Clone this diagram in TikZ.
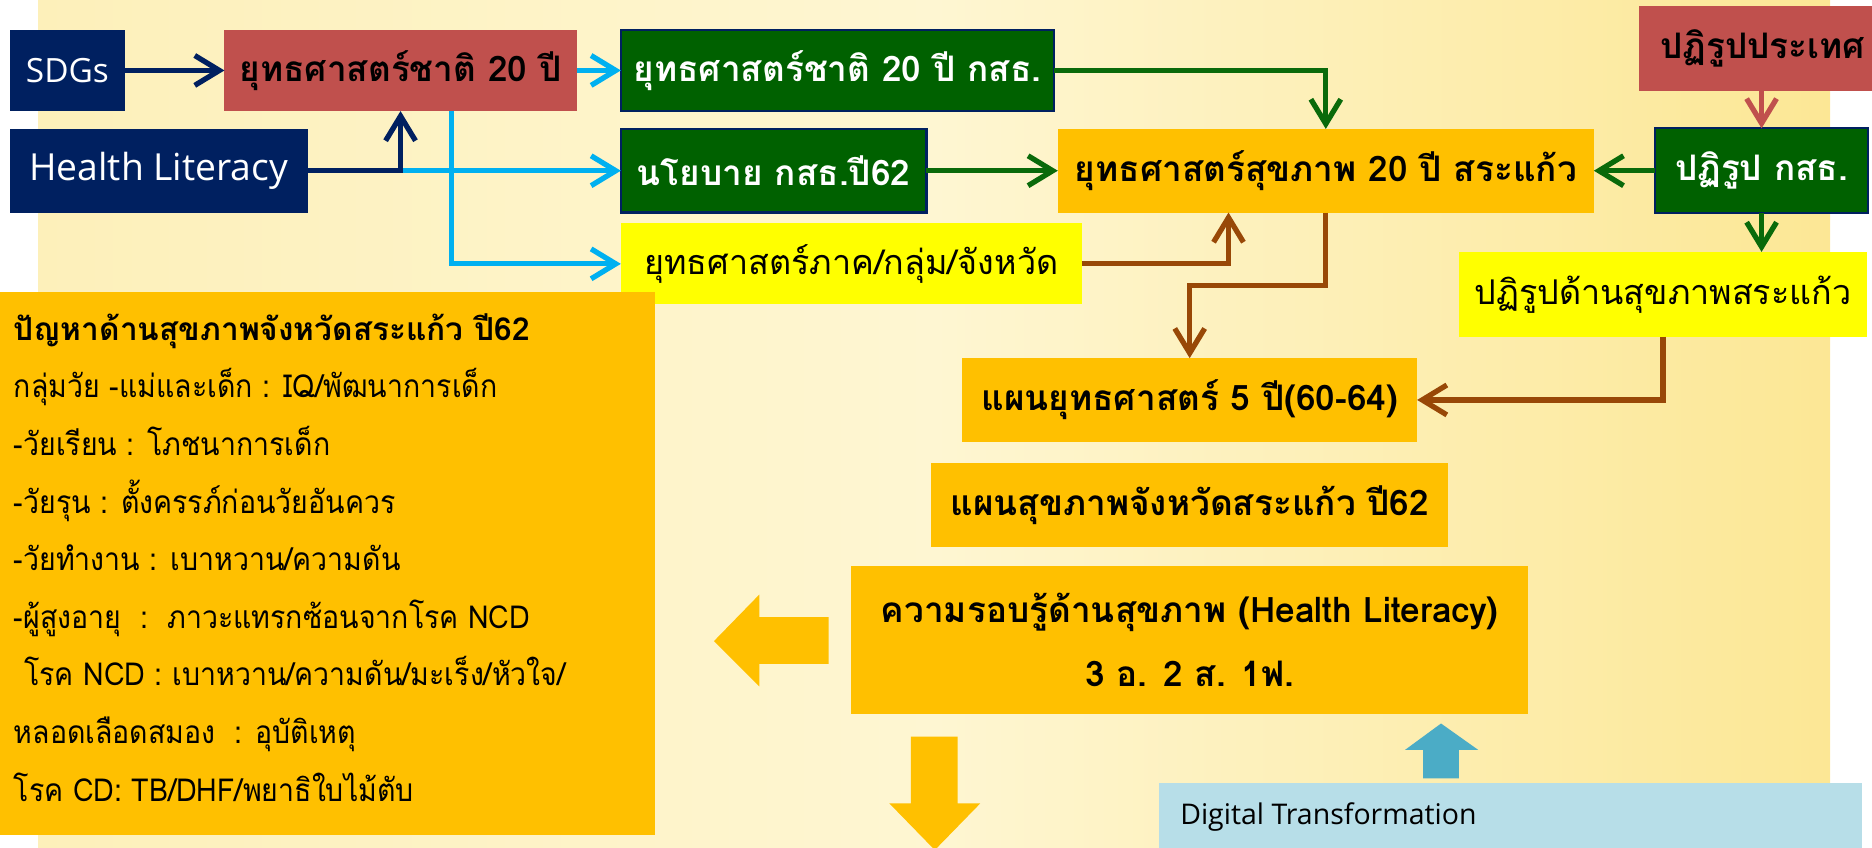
\documentclass[tikz,border=0pt]{standalone}
\usepackage{fontspec}
\usepackage{tikz}
\usetikzlibrary{arrows.meta}
\setmainfont[Script=Thai]{Loma}
\newfontfamily\thainarrow[Script=Thai, FakeStretch=0.9]{Loma}
\newfontfamily\latinfont{Open Sans}
\definecolor{navy}{HTML}{002060}
\definecolor{redbox}{HTML}{C0504D}
\definecolor{greenbox}{HTML}{006100}
\definecolor{greenline}{HTML}{0A6A0A}
\definecolor{cyanline}{HTML}{00B0F0}
\definecolor{brownline}{HTML}{984807}
\definecolor{orangebox}{HTML}{FFC000}
\definecolor{yellowbox}{HTML}{FFFF00}
\definecolor{bluebox}{HTML}{B7DEE8}
\definecolor{bluearrow}{HTML}{4BACC6}
\definecolor{creamA}{HTML}{FDF0BA}
\definecolor{creamB}{HTML}{FEF6D2}
\definecolor{creamC}{HTML}{FCE795}
\newlength\pxu
\setlength\pxu{0.01194cm}

\begin{document}
\begin{tikzpicture}[x=0.01194cm, y=-0.01194cm,
  box/.style={inner sep=0pt, outer sep=0pt, align=center, font=\fontsize{10}{12}\selectfont\bfseries},
  greenbx/.style={box, fill=greenbox, draw=navy, line width=0.6pt, text=white},
  latinbx/.style={box, fill=navy, text=white, font=\latinfont\fontsize{9.5}{11}\selectfont},
  yellowbx/.style={box, fill=yellowbox, font=\fontsize{9.7}{12}\selectfont},
  probline/.style={inner sep=0pt, anchor=base west, font=\thainarrow\fontsize{9}{11}\selectfont},
  conn/.style={line width=1.5pt, -{Straight Barb[length=7pt,width=8.5pt]}},
]
\useasboundingbox (0,0) rectangle (1568,710);
\shade[left color=creamA, right color=creamC, middle color=creamB] (32,0) rectangle (1533,710);

% top part
\node[latinbx, minimum width=97\pxu, minimum height=68\pxu] (sdg) at (56.5,59) {SDGs};
\node[box, fill=redbox, minimum width=295\pxu, minimum height=68\pxu] (nat) at (335.5,59) {ยุทธศาสตร์ชาติ 20 ปี};
\node[greenbx, minimum width=363\pxu, minimum height=68\pxu] (natmoph) at (701.5,59) {ยุทธศาสตร์ชาติ 20 ปี กสธ.};
\node[latinbx, font=\latinfont\fontsize{10.6}{12}\selectfont, minimum width=250\pxu, minimum height=70\pxu] (hl) at (133,143) {Health Literacy};
\node[greenbx, minimum width=256\pxu, minimum height=70\pxu] (policy) at (648,143) {นโยบาย กสธ.ปี62};
\node[yellowbx, minimum width=386\pxu, minimum height=68\pxu] (region) at (713,221) {ยุทธศาสตร์ภาค/กลุ่ม/จังหวัด};
\node[box, fill=orangebox, minimum width=449\pxu, minimum height=70\pxu] (sk20) at (1110.5,143) {ยุทธศาสตร์สุขภาพ 20 ปี สระแก้ว};
\node[box, fill=redbox, minimum width=207\pxu, minimum height=71\pxu] (reform) at (1476.5,40.5) {ปฏิรูปประเทศ};
\node[greenbx, minimum width=178\pxu, minimum height=71\pxu] (reformmoph) at (1475.5,143) {ปฏิรูป กสธ.};
\node[yellowbx, minimum width=342\pxu, minimum height=71\pxu] (reformsk) at (1393,246.5) {ปฏิรูปด้านสุขภาพสระแก้ว};

% plans
\node[box, fill=orangebox, minimum width=381\pxu, minimum height=70\pxu] (plan5) at (996.5,335) {แผนยุทธศาสตร์ 5 ปี(60-64)};
\node[box, fill=orangebox, minimum width=433\pxu, minimum height=70\pxu] (plan62) at (996.5,423) {แผนสุขภาพจังหวัดสระแก้ว ปี62};
\node[box, fill=orangebox, font=\fontsize{10}{18}\selectfont\bfseries, minimum width=567\pxu, minimum height=124\pxu] (hlbox) at (996.5,536) {ความรอบรู้ด้านสุขภาพ (Health Literacy)\\3 อ. 2 ส. 1ฟ.};

% problems
\node[box, fill=orangebox, minimum width=549\pxu, minimum height=455\pxu] (prob) at (274.5,472) {};
\node[probline, font=\fontsize{9}{11}\selectfont\bfseries] (probtitle) at (11,285) {ปัญหาด้านสุขภาพจังหวัดสระแก้ว ปี62};
\foreach \t [count=\i] in {กลุ่มวัย -แม่และเด็ก : IQ/พัฒนาการเด็ก, -วัยเรียน : โภชนาการเด็ก, -วัยรุน : ตั้งครรภ์ก่อนวัยอันควร, -วัยทำงาน : เบาหวาน/ความดัน, -ผู้สูงอายุ\ \ :\ \ ภาวะแทรกซ้อนจากโรค NCD, \hspace{3pt}โรค NCD : เบาหวาน/ความดัน/มะเร็ง/หัวใจ/, หลอดเลือดสมอง\ \ : อุบัติเหตุ, โรค CD: TB/DHF/พยาธิใบไม้ตับ}
  \node[probline] (prob\i) at (11,285+48.25*\i) {\t};

% digital
\node[box, fill=bluebox, minimum width=589\pxu, minimum height=100\pxu] (digital) at (1265.5,706) {};
\node[inner sep=0pt, anchor=west, font=\latinfont\fontsize{8.1}{10}\selectfont] (digitaltext) at (988,684) {Digital Transformation};

% block arrows
\fill[orangebox] (694,517) -- (636,517) -- (636,498) -- (598,537) -- (636,575) -- (636,556) -- (694,556) -- cycle;
\fill[orangebox] (763,617) -- (802,617) -- (802,673) -- (821,673) -- (783,712) -- (745,673) -- (763,673) -- cycle;
\fill[bluearrow] (1192,652) -- (1192,628) -- (1177,628) -- (1207,606) -- (1238,628) -- (1222,628) -- (1222,652) -- cycle;

% connectors
\coordinate (natdrop) at ([xshift=42.5\pxu]nat.south);
\draw[conn, cyanline] (hl.east -| nat.south) -- (policy);
\draw[conn, cyanline] (natdrop) |- (region);
\draw[conn, cyanline] (nat) -- (natmoph);
\draw[conn, navy] (sdg) -- (nat);
\draw[conn, navy] (hl) -| (nat);
\draw[conn, greenline] (natmoph) -| (sk20);
\draw[conn, greenline] (policy) -- (sk20);
\draw[conn, brownline] (region) -| ([xshift=-81.5\pxu]sk20.south);
\draw[conn, brownline] (sk20.south) -- ++(0,61) -| (plan5);
\draw[conn, redbox] (reformmoph.north |- reform.south) -- (reformmoph);
\draw[conn, greenline] (reformmoph) -- (sk20);
\draw[conn, greenline] (reformmoph) -- (reformmoph |- reformsk.north);
\draw[conn, brownline] (reformsk) |- (plan5);
\end{tikzpicture}
\end{document}
